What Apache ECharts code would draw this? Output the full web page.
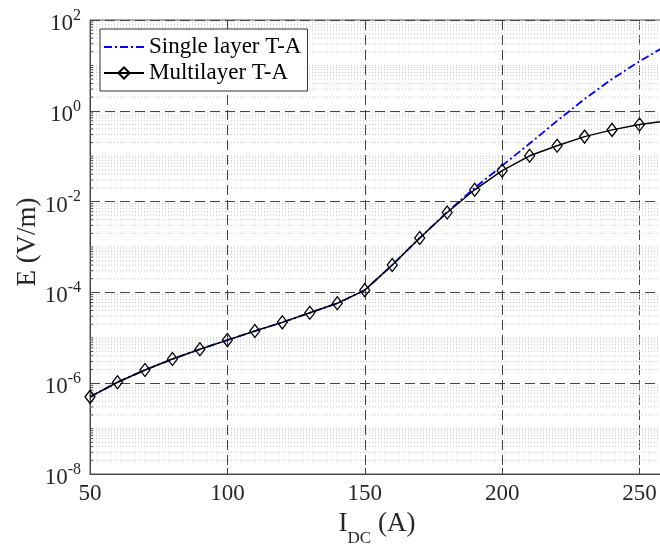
<!DOCTYPE html>
<html>
<head>
<meta charset="utf-8">
<script src="https://cdn.jsdelivr.net/npm/echarts@6/dist/echarts.min.js"></script>
<style>
  html, body { margin: 0; padding: 0; background: #ffffff; }
  #chart { width: 660px; height: 550px; }
</style>
</head>
<body>
<div id="chart"></div>
<script>
// DC current (A) at which the field was evaluated
const currents = [50, 60, 70, 80, 90, 100, 110, 120, 130, 140, 150,
                  160, 170, 180, 190, 200, 210, 220, 230, 240, 250, 260];

// Electric field E (V/m), multilayer T-A formulation
const multilayerE = [5.0e-7, 1.05e-6, 1.95e-6, 3.4e-6, 5.6e-6, 8.9e-6, 1.41e-5, 2.19e-5, 3.55e-5, 5.75e-5, 1.12e-4,
                     4.0e-4, 1.58e-3, 5.75e-3, 1.82e-2, 4.8e-2, 0.102, 0.17, 0.27, 0.38, 0.50, 0.60];

// Electric field E (V/m), single layer T-A formulation
const singleLayerE = [5.0e-7, 1.05e-6, 1.95e-6, 3.4e-6, 5.6e-6, 8.9e-6, 1.41e-5, 2.19e-5, 3.55e-5, 5.75e-5, 1.12e-4,
                      4.0e-4, 1.58e-3, 5.9e-3, 2.0e-2, 0.062, 0.19, 0.60, 1.82, 5.0, 12.3, 28.0];

const xTickValues = [50, 100, 150, 200, 250];
const seriesNames = ['Single layer T-A', 'Multilayer T-A'];

const FONT = 'Liberation Serif';
const TEXT = '#262626';
const AXIS = '#444444';

// minor log positions (2..9 x 10^k, plus the unlabeled odd decades) for the dotted grid
const minorLevels = [];
for (let k = -8; k < 2; k++) {
  for (let m = 1; m <= 9; m++) {
    if (m === 1 && k % 2 === 0) continue;
    minorLevels.push(m * Math.pow(10, k));
  }
}

const chart = echarts.init(document.getElementById('chart'), null, { renderer: 'canvas' });

chart.setOption({
  animation: false,
  backgroundColor: '#ffffff',
  grid: {
    left: 90, top: 20, width: 577, height: 454,
    show: true, borderColor: '#555555', borderWidth: 1, backgroundColor: 'transparent',
    containLabel: false, outerBoundsMode: 'none'
  },
  legend: {
    data: [
      { name: seriesNames[0], itemStyle: { opacity: 0 } },
      { name: seriesNames[1] }
    ],
    orient: 'vertical',
    left: 100, top: 29,
    padding: [6, 6, 6, 3],
    itemGap: 2,
    itemWidth: 40,
    itemHeight: 14,
    backgroundColor: '#ffffff',
    borderColor: '#333333',
    borderWidth: 1,
    borderRadius: 0,
    z: 20,
    textStyle: { fontFamily: FONT, fontSize: 23, color: '#000000', lineHeight: 24 }
  },
  xAxis: {
    type: 'value',
    min: 50, max: 260, interval: 50,
    axisLine: { show: true, lineStyle: { color: AXIS, width: 1 } },
    axisTick: { show: true, inside: true, length: 6, lineStyle: { color: AXIS } },
    axisLabel: {
      margin: 8, fontFamily: FONT, fontSize: 23, color: TEXT,
      showMaxLabel: false,
      formatter: v => (xTickValues.indexOf(v) >= 0 ? String(v) : '')
    },
    splitLine: { show: true, lineStyle: { color: '#444444', width: 1, type: [10, 5] } }
  },
  yAxis: {
    type: 'log',
    logBase: 10,
    min: 1e-8, max: 1e2, interval: 2,
    axisLine: { show: true, lineStyle: { color: AXIS, width: 1 } },
    axisTick: { show: true, inside: true, length: 6, lineStyle: { color: AXIS } },
    axisLabel: {
      margin: 9,
      formatter: v => '{b|10}{s|' + Math.round(Math.log10(v)) + '}',
      rich: {
        b: { fontFamily: FONT, fontSize: 23, color: TEXT, padding: [8, 0, 0, 0] },
        s: { fontFamily: FONT, fontSize: 16, color: TEXT, padding: [0, 0, 9, 0] }
      }
    },
    splitLine: { show: true, lineStyle: { color: '#444444', width: 1, type: [10, 5] } }
  },
  graphic: [
    {
      type: 'text', x: 377, y: 524, z: 10,
      style: {
        text: '{i|I}{d|DC}{t| (A)}',
        align: 'center', verticalAlign: 'middle',
        rich: {
          i: { fontFamily: FONT, fontSize: 27, fill: TEXT },
          d: { fontFamily: FONT, fontSize: 17, fill: TEXT, padding: [30, 0, 0, 0] },
          t: { fontFamily: FONT, fontSize: 27, fill: TEXT }
        }
      }
    },
    {
      type: 'text', x: 28, y: 242, rotation: Math.PI / 2, z: 10,
      style: {
        text: 'E (V/m)', fontFamily: FONT, fontSize: 27, fill: TEXT,
        align: 'center', verticalAlign: 'middle'
      }
    }
  ],
  series: [
    {
      // dotted minor grid lines with short inside ticks on the log axis
      name: 'minor-grid',
      type: 'custom',
      silent: true,
      z: 1,
      clip: true,
      data: minorLevels.map(v => [50, v]),
      renderItem: (params, api) => {
        const v = api.value(1);
        const p0 = api.coord([50, v]);
        const p1 = api.coord([260, v]);
        return {
          type: 'group',
          children: [
            {
              type: 'line',
              shape: { x1: p0[0], y1: p0[1], x2: p1[0], y2: p1[1] },
              style: { stroke: '#c4c4c4', lineWidth: 1, lineDash: [1, 2] }
            },
            {
              type: 'line',
              shape: { x1: p0[0], y1: p0[1], x2: p0[0] + 3, y2: p0[1] },
              style: { stroke: AXIS, lineWidth: 1 }
            }
          ]
        };
      }
    },
    {
      name: seriesNames[0],
      type: 'line',
      data: currents.map((c, i) => [c, singleLayerE[i]]),
      symbol: 'none',
      z: 3,
      itemStyle: { color: '#0000ff' },
      lineStyle: { color: '#0000ff', width: 1.8, type: [8, 3, 2, 3] }
    },
    {
      name: seriesNames[1],
      type: 'line',
      data: currents.map((c, i) => [c, multilayerE[i]]),
      symbol: 'diamond',
      symbolSize: [10, 13],
      z: 4,
      itemStyle: { color: 'rgba(255,255,255,0)', borderColor: '#000000', borderWidth: 1.3 },
      lineStyle: { color: '#000000', width: 1.5 }
    }
  ]
});
</script>
</body>
</html>
